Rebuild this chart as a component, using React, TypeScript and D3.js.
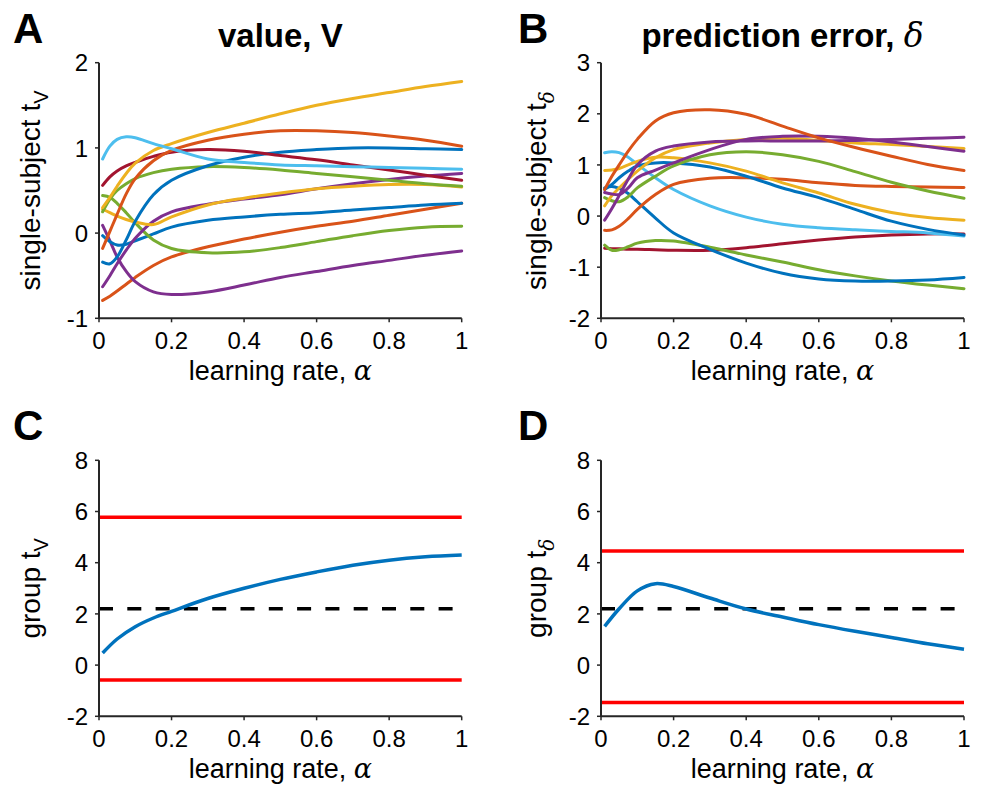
import React from "react";
import * as d3 from "d3";

// ---------- data ----------
const X_SUBJ = [0.01, 0.03, 0.05, 0.075, 0.1, 0.15, 0.2, 0.3, 0.4, 0.5, 0.6, 0.7, 0.8, 0.9, 1.0];
const X_GROUP = [0.01, 0.05, 0.1, 0.15, 0.2, 0.3, 0.4, 0.5, 0.6, 0.7, 0.8, 0.9, 1.0];

const X_TICKS = [0, 0.2, 0.4, 0.6, 0.8, 1];
const X_TICK_LABELS = ["0", "0.2", "0.4", "0.6", "0.8", "1"];
const Y_TICKS_A = [-1, 0, 1, 2];
const Y_TICKS_B = [-2, -1, 0, 1, 2, 3];
const Y_TICKS_GROUP = [-2, 0, 2, 4, 6, 8];

// Panel A: single-subject t for value V
const vLightBlue = [0.87, 1.02, 1.1, 1.13, 1.12, 1.05, 0.99, 0.87, 0.83, 0.8, 0.79, 0.78, 0.77, 0.76, 0.75];
const vDarkRed = [0.56, 0.66, 0.73, 0.79, 0.83, 0.9, 0.95, 0.98, 0.96, 0.91, 0.86, 0.8, 0.74, 0.68, 0.62];
const vGreenUp = [0.25, 0.4, 0.5, 0.58, 0.64, 0.71, 0.75, 0.78, 0.77, 0.74, 0.7, 0.66, 0.62, 0.58, 0.55];
const vYellowUp = [0.3, 0.42, 0.55, 0.7, 0.82, 0.97, 1.05, 1.18, 1.29, 1.4, 1.5, 1.58, 1.65, 1.72, 1.78];
const vOrangeUp = [-0.18, 0.02, 0.22, 0.46, 0.64, 0.85, 0.97, 1.09, 1.16, 1.2, 1.2, 1.18, 1.14, 1.09, 1.02];
const vBlueUp = [-0.34, -0.36, -0.28, -0.08, 0.14, 0.45, 0.62, 0.79, 0.89, 0.95, 0.98, 1.0, 1.0, 0.99, 0.98];
const vYellowLow = [0.28, 0.24, 0.2, 0.16, 0.13, 0.1, 0.19, 0.33, 0.41, 0.47, 0.52, 0.55, 0.57, 0.57, 0.54];
const vPurpleUp = [-0.63, -0.5, -0.36, -0.2, -0.06, 0.14, 0.25, 0.34, 0.4, 0.45, 0.52, 0.58, 0.63, 0.67, 0.7];
const vGreenLow = [0.44, 0.42, 0.35, 0.24, 0.12, -0.08, -0.18, -0.23, -0.22, -0.17, -0.1, -0.03, 0.03, 0.07, 0.08];
const vBlueLow = [-0.03, -0.1, -0.14, -0.13, -0.09, -0.01, 0.07, 0.15, 0.19, 0.22, 0.24, 0.27, 0.3, 0.33, 0.35];
const vOrangeLow = [-0.79, -0.74, -0.68, -0.6, -0.52, -0.38, -0.28, -0.16, -0.07, 0.01, 0.08, 0.14, 0.21, 0.28, 0.35];
const vPurpleLow = [0.09, -0.09, -0.28, -0.45, -0.57, -0.69, -0.72, -0.69, -0.61, -0.52, -0.45, -0.38, -0.32, -0.26, -0.21];

// Panel B: single-subject t for prediction error delta
const dOrangeUp = [0.52, 0.78, 1.0, 1.27, 1.5, 1.86, 2.02, 2.08, 1.99, 1.76, 1.53, 1.34, 1.17, 1.01, 0.89];
const dPurpleA = [-0.08, 0.15, 0.4, 0.72, 1.0, 1.27, 1.37, 1.45, 1.47, 1.47, 1.47, 1.48, 1.5, 1.52, 1.54];
const dPurpleB = [0.46, 0.43, 0.42, 0.55, 0.75, 0.9, 1.04, 1.3, 1.5, 1.56, 1.56, 1.52, 1.45, 1.36, 1.27];
const dYellowA = [0.2, 0.4, 0.55, 0.72, 0.88, 1.14, 1.3, 1.43, 1.5, 1.52, 1.48, 1.43, 1.4, 1.36, 1.32];
const dYellowB = [0.89, 0.9, 0.93, 1.0, 1.07, 1.15, 1.14, 1.04, 0.88, 0.65, 0.45, 0.23, 0.07, -0.03, -0.08];
const dGreenA = [0.36, 0.3, 0.28, 0.38, 0.55, 0.78, 0.98, 1.2, 1.26, 1.2, 1.07, 0.87, 0.66, 0.49, 0.35];
const dBlueA = [0.52, 0.62, 0.75, 0.88, 0.98, 1.04, 1.04, 0.96, 0.78, 0.55, 0.36, 0.13, -0.1, -0.26, -0.37];
const dLightBlue = [1.24, 1.26, 1.24, 1.15, 1.01, 0.75, 0.52, 0.2, -0.02, -0.16, -0.23, -0.27, -0.3, -0.33, -0.39];
const dOrangeLow = [-0.28, -0.27, -0.2, -0.05, 0.13, 0.42, 0.62, 0.74, 0.75, 0.72, 0.65, 0.6, 0.58, 0.57, 0.56];
const dBlueB = [0.55, 0.58, 0.54, 0.44, 0.28, -0.04, -0.33, -0.65, -0.92, -1.12, -1.23, -1.27, -1.27, -1.25, -1.2];
const dGreenB = [-0.57, -0.67, -0.66, -0.6, -0.53, -0.48, -0.49, -0.61, -0.76, -0.9, -1.05, -1.17, -1.27, -1.35, -1.42];
const dDarkRed = [-0.63, -0.64, -0.64, -0.65, -0.65, -0.66, -0.67, -0.67, -0.62, -0.54, -0.47, -0.41, -0.37, -0.35, -0.35];

// Panels C, D: group t
const groupV = [0.47, 1.02, 1.5, 1.84, 2.1, 2.6, 3.0, 3.35, 3.64, 3.9, 4.1, 4.23, 4.3];
const groupD = [1.51, 2.2, 2.9, 3.18, 3.07, 2.62, 2.19, 1.88, 1.58, 1.32, 1.08, 0.83, 0.62];
const permBoundsV = [5.78, -0.58];
const permBoundsD = [4.46, -1.46];
const critT = [2.2];

// ---------- styling ----------
const C = {
  blue: "#0072BD",
  orange: "#D95319",
  yellow: "#EDB120",
  purple: "#7E2F8E",
  green: "#77AC30",
  lightBlue: "#4DBEEE",
  darkRed: "#A2142F",
};

const seriesA = [
  { v: vOrangeLow, c: C.orange },
  { v: vPurpleLow, c: C.purple },
  { v: vBlueLow, c: C.blue },
  { v: vGreenLow, c: C.green },
  { v: vPurpleUp, c: C.purple },
  { v: vYellowLow, c: C.yellow },
  { v: vGreenUp, c: C.green },
  { v: vBlueUp, c: C.blue },
  { v: vDarkRed, c: C.darkRed },
  { v: vOrangeUp, c: C.orange },
  { v: vYellowUp, c: C.yellow },
  { v: vLightBlue, c: C.lightBlue },
];

const seriesB = [
  { v: dDarkRed, c: C.darkRed },
  { v: dGreenB, c: C.green },
  { v: dBlueB, c: C.blue },
  { v: dLightBlue, c: C.lightBlue },
  { v: dOrangeLow, c: C.orange },
  { v: dBlueA, c: C.blue },
  { v: dYellowB, c: C.yellow },
  { v: dGreenA, c: C.green },
  { v: dYellowA, c: C.yellow },
  { v: dPurpleB, c: C.purple },
  { v: dPurpleA, c: C.purple },
  { v: dOrangeUp, c: C.orange },
];

const FONT = "'Liberation Sans', Arial, Helvetica, sans-serif";
const SERIF = "'DejaVu Serif', 'Liberation Serif', serif";
const AXIS = "#262626";
const TICK_FS = 24;
const LABEL_FS = 27;

type PanelProps = {
  left: number;
  right: number;
  top: number;
  bottom: number;
  yDomain: [number, number];
  yTicks: number[];
  letter: string;
  letterX: number;
  title?: React.ReactNode;
  yLabel: React.ReactNode;
  yLabelX: number;
  children: (x: d3.ScaleLinear<number, number>, y: d3.ScaleLinear<number, number>) => React.ReactNode;
};

function Panel(p: PanelProps) {
  const x = d3.scaleLinear().domain([0, 1]).range([p.left, p.right]);
  const y = d3.scaleLinear().domain(p.yDomain).range([p.bottom, p.top]);
  const cx = (p.left + p.right) / 2;
  const cy = (p.top + p.bottom) / 2;
  return (
    <g>
      <text x={p.letterX} y={p.top - 20} fontFamily={FONT} fontWeight="bold" fontSize={42} fill="#000">
        {p.letter}
      </text>
      {p.title && (
        <text x={cx} y={p.top - 16} textAnchor="middle" fontFamily={FONT} fontWeight="bold" fontSize={33} fill="#000">
          {p.title}
        </text>
      )}
      <g>{p.children(x, y)}</g>
      <line x1={p.left} x2={p.right} y1={p.bottom} y2={p.bottom} stroke={AXIS} strokeWidth={2} />
      <line x1={p.left} x2={p.left} y1={p.top} y2={p.bottom} stroke={AXIS} strokeWidth={2} />
      {X_TICKS.map((t, i) => (
        <g key={"xt" + i}>
          <line x1={x(t)} x2={x(t)} y1={p.bottom} y2={p.bottom + 4} stroke={AXIS} strokeWidth={1.5} />
          <text x={x(t)} y={p.bottom + 31} textAnchor="middle" fontFamily={FONT} fontSize={TICK_FS} fill="#000">
            {X_TICK_LABELS[i]}
          </text>
        </g>
      ))}
      {p.yTicks.map((t, i) => (
        <g key={"yt" + i}>
          <line x1={p.left - 4} x2={p.left} y1={y(t)} y2={y(t)} stroke={AXIS} strokeWidth={1.5} />
          <text x={p.left - 11} y={y(t)} dy="0.36em" textAnchor="end" fontFamily={FONT} fontSize={TICK_FS} fill="#000">
            {t}
          </text>
        </g>
      ))}
      <text x={cx} y={p.bottom + 62} textAnchor="middle" fontFamily={FONT} fontSize={LABEL_FS} fill="#000">
        learning rate,{" "}
        <tspan fontFamily={SERIF} fontStyle="italic">
          α
        </tspan>
      </text>
      <text
        transform={`translate(${p.yLabelX},${cy}) rotate(-90)`}
        textAnchor="middle"
        fontFamily={FONT}
        fontSize={28}
        fill="#000"
      >
        {p.yLabel}
      </text>
    </g>
  );
}

function curveLines(
  series: { v: number[]; c: string }[],
  xs: number[],
  x: d3.ScaleLinear<number, number>,
  y: d3.ScaleLinear<number, number>
) {
  const gen = d3
    .line<number>()
    .x((_, i) => x(xs[i]))
    .y((d) => y(d))
    .curve(d3.curveCatmullRom.alpha(0.5));
  return series.map((s, i) => (
    <path key={i} d={gen(s.v) || ""} fill="none" stroke={s.c} strokeWidth={3} strokeLinecap="round" />
  ));
}

function groupPlot(
  vals: number[],
  bounds: number[],
  x: d3.ScaleLinear<number, number>,
  y: d3.ScaleLinear<number, number>
) {
  const gen = d3
    .line<number>()
    .x((_, i) => x(X_GROUP[i]))
    .y((d) => y(d))
    .curve(d3.curveCatmullRom.alpha(0.5));
  return (
    <g>
      {bounds.map((b, i) => (
        <line key={i} x1={x(0)} x2={x(1)} y1={y(b)} y2={y(b)} stroke="#FF0000" strokeWidth={3.5} />
      ))}
      {critT.map((c, i) => (
        <line
          key={"c" + i}
          x1={x(0)}
          x2={x(0.975)}
          y1={y(c)}
          y2={y(c)}
          stroke="#000"
          strokeWidth={3.5}
          strokeDasharray="14 14.3"
        />
      ))}
      <path d={gen(vals) || ""} fill="none" stroke={C.blue} strokeWidth={3.5} />
    </g>
  );
}

export default function App() {
  return (
    <svg
      width={982}
      height={786}
      viewBox="0 0 982 786"
      style={{ position: "absolute", left: 0, top: 0, background: "#fff" }}
    >
      <rect x={0} y={0} width={982} height={786} fill="#fff" />
      <Panel
        left={99}
        right={461.7}
        top={62.7}
        bottom={318.3}
        yDomain={[-1, 2]}
        yTicks={Y_TICKS_A}
        letter="A"
        letterX={13}
        title="value, V"
        yLabel={
          <>
            single-subject t
            <tspan fontSize={20} dy={8}>
              V
            </tspan>
          </>
        }
        yLabelX={40}
      >
        {(x, y) => curveLines(seriesA, X_SUBJ, x, y)}
      </Panel>
      <Panel
        left={601}
        right={964}
        top={62.7}
        bottom={318.3}
        yDomain={[-2, 3]}
        yTicks={Y_TICKS_B}
        letter="B"
        letterX={518}
        title={
          <>
            prediction error,{" "}
            <tspan fontFamily={SERIF} fontStyle="italic" fontWeight="normal">
              δ
            </tspan>
          </>
        }
        yLabel={
          <>
            single-subject t
            <tspan fontSize={20} dy={8} fontFamily={SERIF} fontStyle="italic">
              δ
            </tspan>
          </>
        }
        yLabelX={546}
      >
        {(x, y) => curveLines(seriesB, X_SUBJ, x, y)}
      </Panel>
      <Panel
        left={99}
        right={461.7}
        top={460.3}
        bottom={716.3}
        yDomain={[-2, 8]}
        yTicks={Y_TICKS_GROUP}
        letter="C"
        letterX={13}
        yLabel={
          <>
            group t
            <tspan fontSize={20} dy={8}>
              V
            </tspan>
          </>
        }
        yLabelX={40}
      >
        {(x, y) => groupPlot(groupV, permBoundsV, x, y)}
      </Panel>
      <Panel
        left={601}
        right={964}
        top={460.3}
        bottom={716.3}
        yDomain={[-2, 8]}
        yTicks={Y_TICKS_GROUP}
        letter="D"
        letterX={518}
        yLabel={
          <>
            group t
            <tspan fontSize={20} dy={8} fontFamily={SERIF} fontStyle="italic">
              δ
            </tspan>
          </>
        }
        yLabelX={546}
      >
        {(x, y) => groupPlot(groupD, permBoundsD, x, y)}
      </Panel>
    </svg>
  );
}
